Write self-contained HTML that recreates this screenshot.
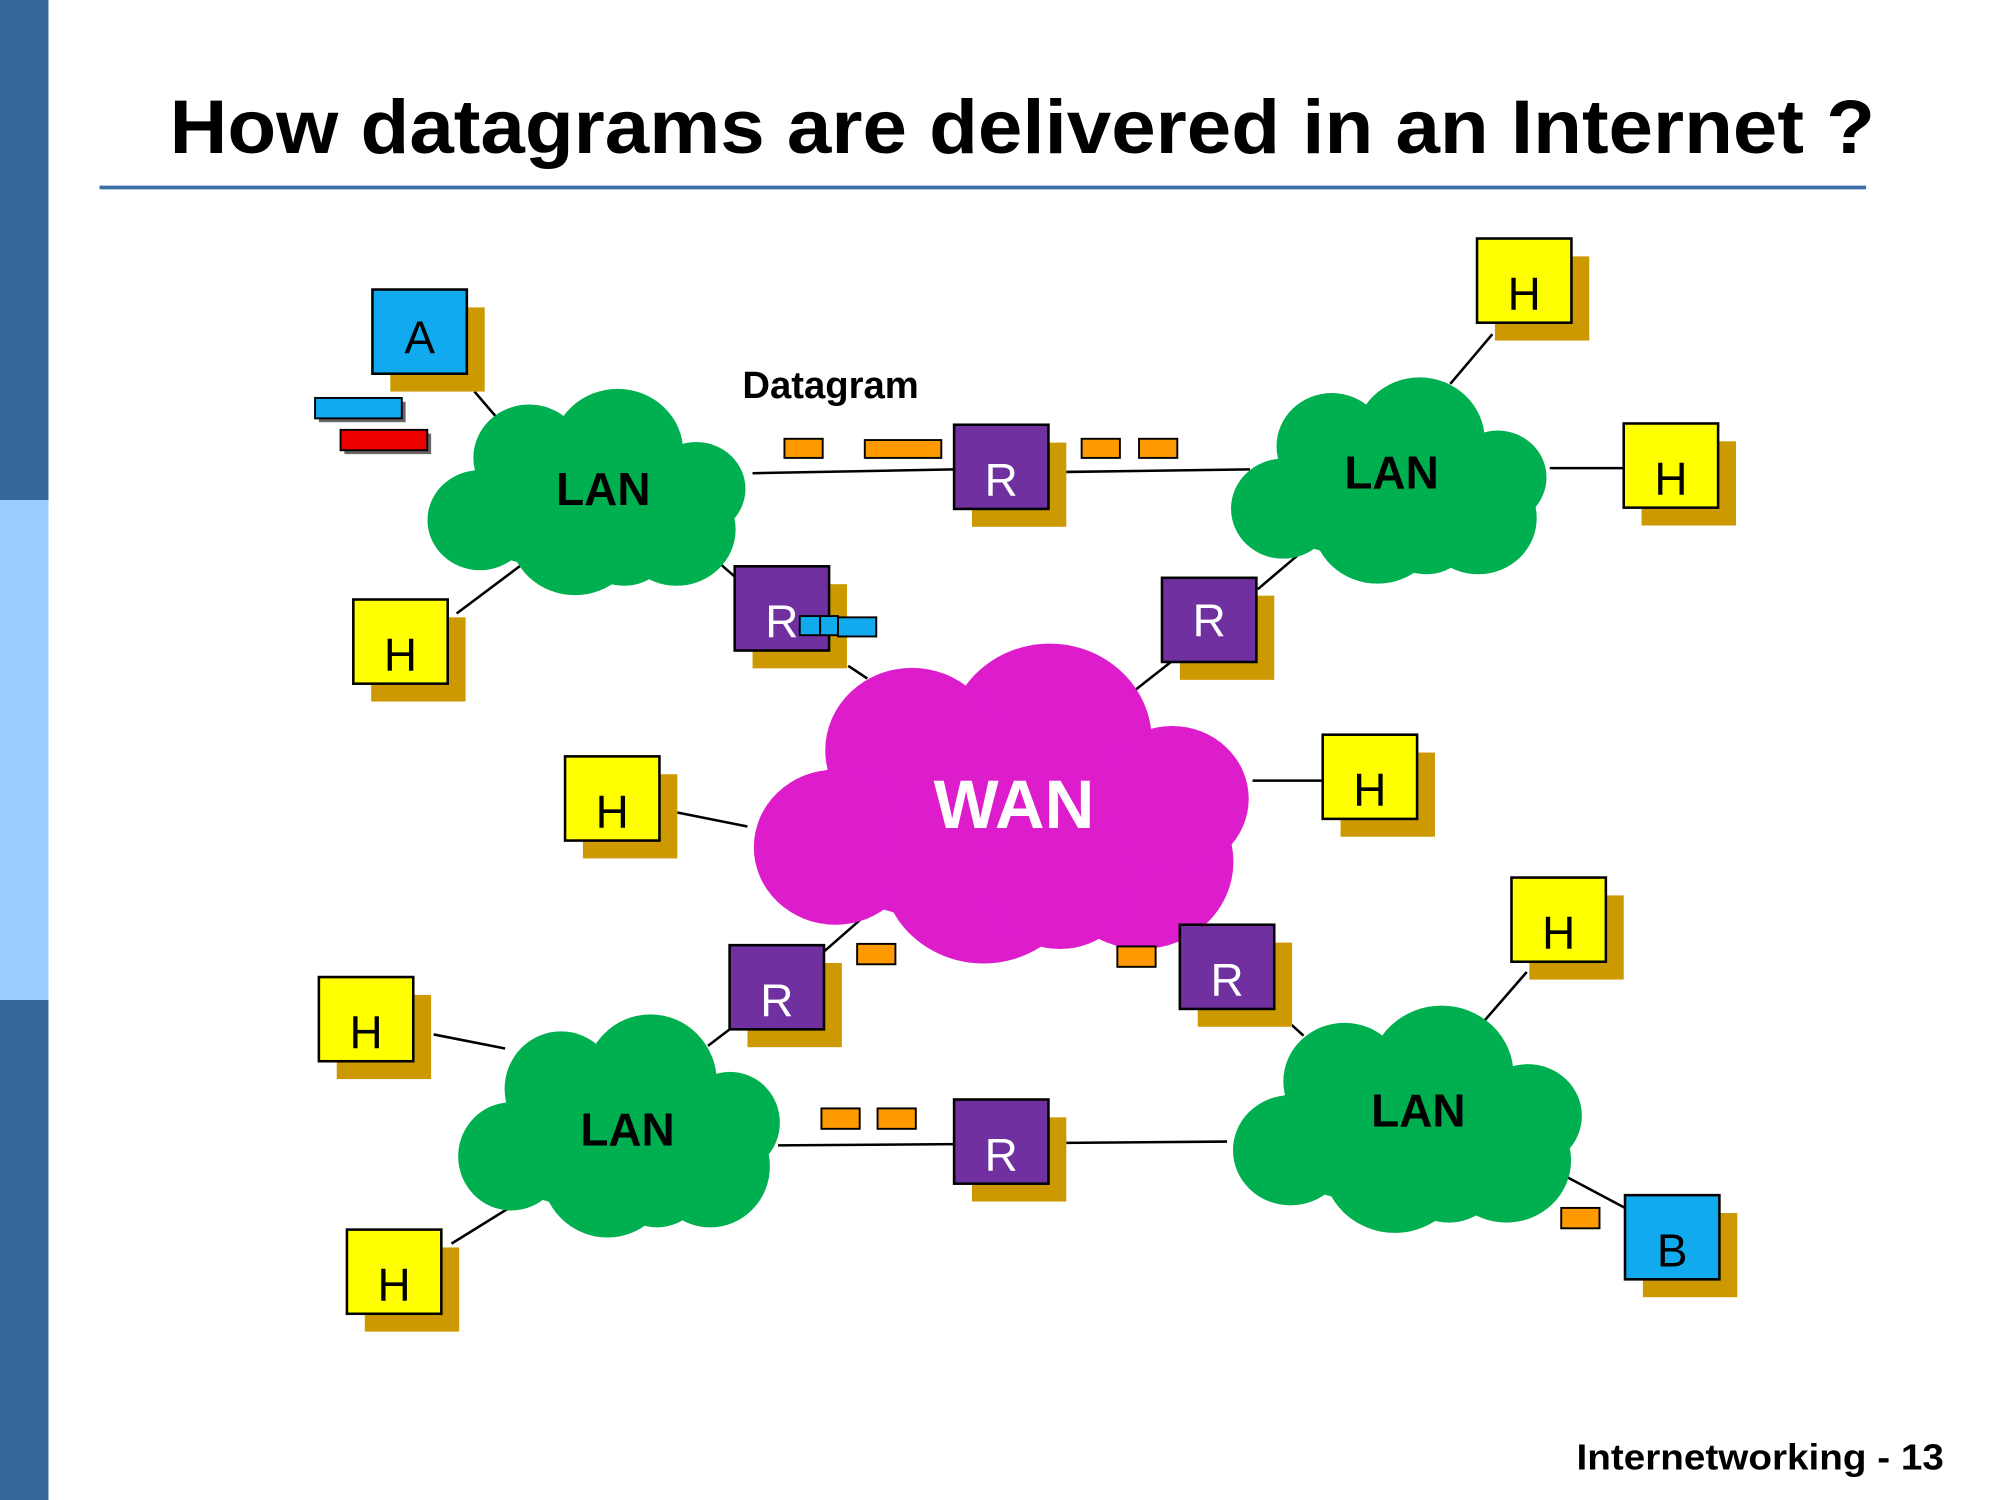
<!DOCTYPE html>
<html><head><meta charset="utf-8"><style>
html,body{margin:0;padding:0;background:#fff;width:2000px;height:1500px;overflow:hidden}
svg{display:block}
text{font-family:"Liberation Sans",sans-serif}
</style></head><body>
<svg width="2000" height="1500" viewBox="0 0 1568 1176" preserveAspectRatio="none" xmlns="http://www.w3.org/2000/svg">
<defs>
<g id="cloud">
<ellipse cx="50" cy="40" rx="42" ry="20"/>
<circle cx="60" cy="22" r="20"/>
<circle cx="33" cy="24" r="17"/>
<circle cx="18" cy="44" r="16"/>
<circle cx="78" cy="47" r="18"/>
<circle cx="47" cy="48" r="20"/>
<circle cx="84" cy="34" r="15"/>
<circle cx="62" cy="50" r="15"/>
</g>
</defs>
<rect x="0" y="0" width="38" height="392" fill="#336699"/>
<rect x="0" y="392" width="38" height="392" fill="#99ccff"/>
<rect x="0" y="784" width="38" height="392" fill="#336699"/>
<text x="133" y="120" font-size="60" font-weight="bold" textLength="1337" lengthAdjust="spacingAndGlyphs">How datagrams are delivered in an Internet ?</text>
<line x1="78" y1="147" x2="1463" y2="147" stroke="#3b6ea5" stroke-width="3"/>
<text x="1236" y="1152" font-size="28" font-weight="bold" textLength="288" lengthAdjust="spacingAndGlyphs">Internetworking - 13</text>

<g stroke="#000" stroke-width="2">
<line x1="372" y1="307" x2="390" y2="328"/>
<line x1="590" y1="371" x2="748" y2="368"/>
<line x1="836" y1="370" x2="980" y2="368"/>
<line x1="1137" y1="301" x2="1170" y2="262"/>
<line x1="1215" y1="367" x2="1273" y2="367"/>
<line x1="358" y1="481" x2="410" y2="442"/>
<line x1="545" y1="425" x2="576" y2="452"/>
<line x1="665" y1="522" x2="680" y2="532"/>
<line x1="1019" y1="434" x2="986" y2="462"/>
<line x1="918" y1="519" x2="890" y2="541"/>
<line x1="531" y1="637" x2="586" y2="648"/>
<line x1="982" y1="612" x2="1037" y2="612"/>
<line x1="678" y1="718" x2="646" y2="746"/>
<line x1="890" y1="705" x2="922" y2="730"/>
<line x1="572" y1="807" x2="555" y2="820"/>
<line x1="340" y1="811" x2="396" y2="822"/>
<line x1="610" y1="898" x2="748" y2="897"/>
<line x1="836" y1="896" x2="962" y2="895"/>
<line x1="354" y1="975" x2="404" y2="944"/>
<line x1="1012" y1="803" x2="1022" y2="812"/>
<line x1="1164" y1="800" x2="1197" y2="762"/>
<line x1="1212" y1="914" x2="1274" y2="947"/>
</g>

<g fill="#00b050">
<use href="#cloud" transform="translate(330,300) scale(2.57,2.45)"/>
<use href="#cloud" transform="translate(960,291) scale(2.55,2.45)"/>
<use href="#cloud" transform="translate(354,790) scale(2.6,2.65)"/>
<use href="#cloud" transform="translate(961,783) scale(2.82,2.7)"/>
</g>
<g fill="#dd1ccc"><use href="#cloud" transform="translate(583,497) scale(4.0,3.8)"/></g>
<g font-weight="bold" font-size="36" text-anchor="middle">
<text x="473" y="396">LAN</text>
<text x="1091" y="383">LAN</text>
<text x="492" y="898">LAN</text>
<text x="1112" y="883">LAN</text>
<text x="795" y="649" font-size="54" fill="#fff">WAN</text>
</g>
<text x="582" y="312" font-size="30" font-weight="bold">Datagram</text>

<g font-size="36" text-anchor="middle" stroke-width="2">
<g><rect x="306" y="241" width="74" height="66" fill="#cc9900"/><rect x="292" y="227" width="74" height="66" fill="#11aaee" stroke="#000"/><text x="329" y="277">A</text></g>
<g><rect x="1172" y="201" width="74" height="66" fill="#cc9900"/><rect x="1158" y="187" width="74" height="66" fill="#ffff00" stroke="#000"/><text x="1195" y="243">H</text></g>
<g><rect x="1287" y="346" width="74" height="66" fill="#cc9900"/><rect x="1273" y="332" width="74" height="66" fill="#ffff00" stroke="#000"/><text x="1310" y="388">H</text></g>
<g><rect x="291" y="484" width="74" height="66" fill="#cc9900"/><rect x="277" y="470" width="74" height="66" fill="#ffff00" stroke="#000"/><text x="314" y="526">H</text></g>
<g><rect x="762" y="347" width="74" height="66" fill="#cc9900"/><rect x="748" y="333" width="74" height="66" fill="#7030a0" stroke="#000"/><text x="785" y="389" fill="#fff">R</text></g>
<g><rect x="590" y="458" width="74" height="66" fill="#cc9900"/><rect x="576" y="444" width="74" height="66" fill="#7030a0" stroke="#000"/><text x="613" y="500" fill="#fff">R</text></g>
<g><rect x="925" y="467" width="74" height="66" fill="#cc9900"/><rect x="911" y="453" width="74" height="66" fill="#7030a0" stroke="#000"/><text x="948" y="499" fill="#fff">R</text></g>
<g><rect x="457" y="607" width="74" height="66" fill="#cc9900"/><rect x="443" y="593" width="74" height="66" fill="#ffff00" stroke="#000"/><text x="480" y="649">H</text></g>
<g><rect x="1051" y="590" width="74" height="66" fill="#cc9900"/><rect x="1037" y="576" width="74" height="66" fill="#ffff00" stroke="#000"/><text x="1074" y="632">H</text></g>
<g><rect x="586" y="755" width="74" height="66" fill="#cc9900"/><rect x="572" y="741" width="74" height="66" fill="#7030a0" stroke="#000"/><text x="609" y="797" fill="#fff">R</text></g>
<g><rect x="939" y="739" width="74" height="66" fill="#cc9900"/><rect x="925" y="725" width="74" height="66" fill="#7030a0" stroke="#000"/><text x="962" y="781" fill="#fff">R</text></g>
<g><rect x="1199" y="702" width="74" height="66" fill="#cc9900"/><rect x="1185" y="688" width="74" height="66" fill="#ffff00" stroke="#000"/><text x="1222" y="744">H</text></g>
<g><rect x="264" y="780" width="74" height="66" fill="#cc9900"/><rect x="250" y="766" width="74" height="66" fill="#ffff00" stroke="#000"/><text x="287" y="822">H</text></g>
<g><rect x="762" y="876" width="74" height="66" fill="#cc9900"/><rect x="748" y="862" width="74" height="66" fill="#7030a0" stroke="#000"/><text x="785" y="918" fill="#fff">R</text></g>
<g><rect x="286" y="978" width="74" height="66" fill="#cc9900"/><rect x="272" y="964" width="74" height="66" fill="#ffff00" stroke="#000"/><text x="309" y="1020">H</text></g>
<g><rect x="1288" y="951" width="74" height="66" fill="#cc9900"/><rect x="1274" y="937" width="74" height="66" fill="#11aaee" stroke="#000"/><text x="1311" y="993">B</text></g>
</g>

<g stroke="#000" stroke-width="1.5">
<rect x="250" y="315" width="68" height="16" fill="#666" stroke="none"/>
<rect x="247" y="312" width="68" height="16" fill="#11aaee"/>
<rect x="270" y="340" width="68" height="16" fill="#666" stroke="none"/>
<rect x="267" y="337" width="68" height="16" fill="#ee0000"/>
<g fill="#ff9900">
<rect x="615" y="344" width="30" height="15"/>
<rect x="678" y="345" width="60" height="14"/>
<rect x="848" y="344" width="30" height="15"/>
<rect x="893" y="344" width="30" height="15"/>
<rect x="672" y="740" width="30" height="16"/>
<rect x="876" y="742" width="30" height="16"/>
<rect x="644" y="869" width="30" height="16"/>
<rect x="688" y="869" width="30" height="16"/>
<rect x="1224" y="947" width="30" height="16"/>
</g>
<g fill="#11aaee">
<rect x="627" y="483" width="16" height="15"/>
<rect x="643" y="483" width="14" height="15"/>
<rect x="657" y="484" width="30" height="15"/>
</g>
</g>
</svg>
</body></html>
